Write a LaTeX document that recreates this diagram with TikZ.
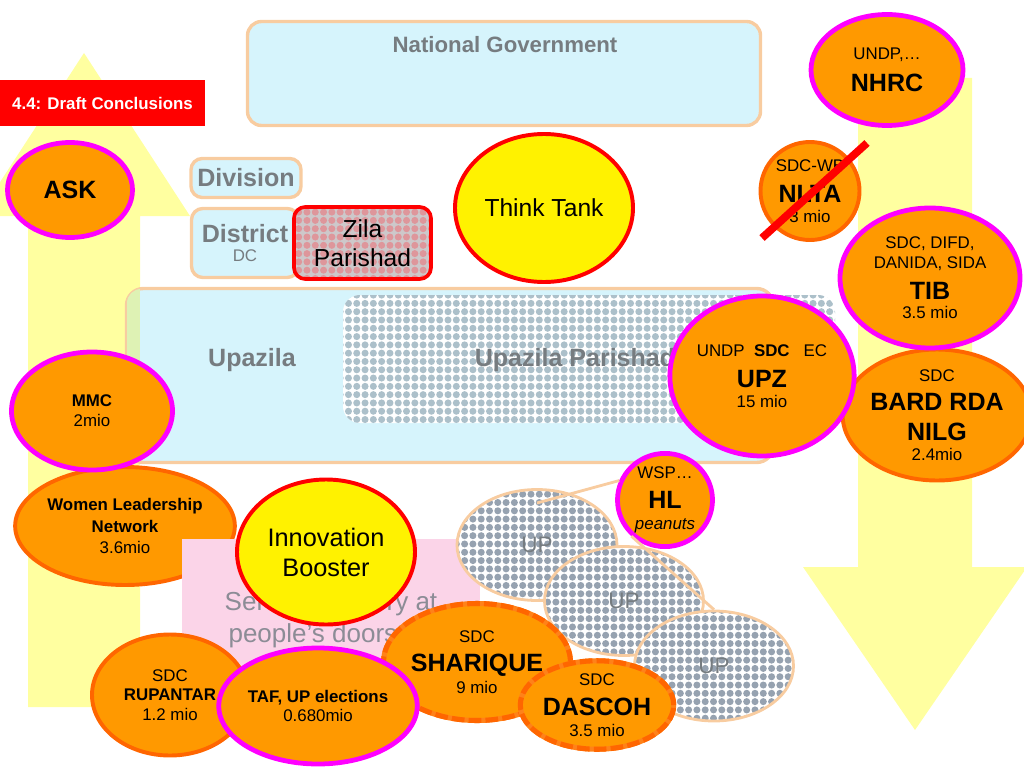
\documentclass[tikz,border=0pt]{standalone}
\usepackage{fontspec}
\setmainfont{Liberation Sans}
\usepackage{tikz}
\usetikzlibrary{shapes}
\usetikzlibrary{patterns.meta}

\definecolor{orfill}{RGB}{255,153,0}
\definecolor{orline}{RGB}{255,102,0}
\definecolor{ordash}{RGB}{255,130,25}
\definecolor{magline}{RGB}{255,0,255}
\definecolor{boxfill}{RGB}{214,244,252}
\definecolor{boxline}{RGB}{248,204,160}
\definecolor{arrowyel}{RGB}{255,255,160}
\definecolor{shaftgreen}{RGB}{222,242,180}
\definecolor{pinkfill}{RGB}{251,212,232}
\definecolor{graytext}{RGB}{118,124,128}
\definecolor{lighttext}{RGB}{140,140,150}
\definecolor{dotblue}{RGB}{172,192,202}
\definecolor{dotgray}{RGB}{150,162,176}
\definecolor{dotpink}{RGB}{222,150,155}
\definecolor{zilabg}{RGB}{205,200,202}

\newcommand{\orgsmall}{\fontsize{12}{14}\selectfont}
\newcommand{\orgbig}{\fontsize{17.8}{21}\selectfont\bfseries}

\tikzdeclarepattern{
  name=dotfill,
  type=uncolored,
  bounding box={(-2.95pt,-2.95pt) and (2.95pt,2.95pt)},
  tile size={(5.9pt,5.9pt)},
  code={\fill (0pt,0pt) circle [radius=2.5pt];}
}

\tikzset{
	sz/.style 2 args={minimum width=#1*0.025cm,minimum height=#2*0.025cm},
	org node/.style={ellipse,draw=orline,line width=2.8pt,fill=orfill,align=center,inner sep=0pt,font=\orgsmall},
	mag node/.style={org node,draw=magline,line width=3.4pt},
	dash node/.style={org node,draw=ordash,line width=3.6pt,
		postaction={draw=orline,line width=3.6pt,dash pattern=on 9pt off 3pt}},
	idea node/.style={ellipse,draw=red,line width=2.8pt,fill=yellow,align=center,inner sep=0pt,
		font=\fontsize{17.5}{21}\selectfont},
	level box/.style={rectangle,rounded corners=8pt,draw=boxline,line width=2.4pt,fill=boxfill,inner sep=0pt},
	level text/.style={text=graytext,font=\bfseries\fontsize{17.8}{21}\selectfont},
	up node/.style={ellipse,draw=boxline,line width=2pt,preaction={fill=white},pattern=dotfill,
		pattern color=dotgray,text=graytext,inner sep=0pt,font=\fontsize{16}{19}\selectfont},
	title box/.style={rectangle,fill=red,text=white,inner sep=0pt,font=\bfseries\fontsize{12}{14}\selectfont},
	hl line/.style={draw=boxline,line width=2pt}
}

\begin{document}
\begin{tikzpicture}[x=0.025cm,y=-0.025cm]
  \useasboundingbox (0,0) rectangle (1024,768);
  \clip (0,0) rectangle (1024,768);

  % up and down arrows
  \fill[arrowyel] (28,707) -- (28,216) -- (-22,216) -- (84,53) -- (190,216) -- (140,216) -- (140,707) -- cycle;
  \fill[arrowyel] (858,78) -- (858,567) -- (803,567) -- (915,730) -- (1027,567) -- (972,567) -- (972,78) -- cycle;

  \node[title box,sz={205}{46}] (title) at (102.5,103) {4.4: Draft Conclusions};

  % levels
  \node[level box,rounded corners=10pt,sz={513}{104}] (natgov) at (504,73.5) {};
  \node[level text,font=\bfseries\fontsize{15.8}{19}\selectfont] (natgovtext) at (505,45) {National Government};
  \node[level box,level text,sz={110}{39}] (division) at (246,178) {Division};
  \node[level box,level text,sz={107}{69},align=center,font=\bfseries\fontsize{17.8}{14}\selectfont] (district) at (245,243)
    {District\\[0pt]{\mdseries\fontsize{12}{14}\selectfont DC}};
  \node[rectangle,rounded corners=8pt,draw=red,line width=2.6pt,preaction={fill=zilabg},pattern=dotfill,
    pattern color=dotpink,sz={137}{72},align=center,inner sep=0pt,font=\fontsize{17.5}{20.6}\selectfont] (zila) at (362.5,243) {Zila\\Parishad};

  \node[level box,rounded corners=12pt,sz={647}{174}] (upazila) at (450,375.5) {};
  \begin{scope}
    \clip[rounded corners=10pt] (127,289) rectangle (773,462);
    \fill[shaftgreen] (127,289) rectangle (140,462);
  \end{scope}
  \node[rectangle,rounded corners=12pt,preaction={fill=white},pattern=dotfill,pattern color=dotblue,
    sz={492}{128},inner sep=0pt] (upparishad) at (589,359) {};
  \node[level text] (upazilatext) at (252,360) {Upazila};
  \node[level text] (upparishadtext) at (575,360) {Upazila Parishad};

  % top
  \node[idea node,sz={178}{148}] (think) at (544,208) {Think Tank};
  \node[org node,sz={99}{98}] (nlta) at (810,191) {SDC-WB\\[8pt]{\orgbig NLTA}\\3 mio};
  \draw[red,line width=5.5pt] ([shift={(-48,47)}]nlta.center) -- ([shift={(57,-48)}]nlta.center);
  \node[mag node,sz={152}{111}] (nhrc) at (887,70) {UNDP,…\\[9pt]{\orgbig NHRC}};
  \node[mag node,sz={125}{95},font=\orgbig] (ask) at (70,190) {ASK};

  % right side
  \node[org node,sz={176}{131}] (bard) at (937,415) {SDC\\[7pt]{\orgbig BARD RDA}\\[7pt]{\orgbig NILG}\\2.4mio};
  \node[mag node,sz={180}{140}] (tib) at (930,278) {SDC, DIFD,\\DANIDA, SIDA\\[8pt]{\orgbig TIB}\\3.5 mio};
  \node[mag node,sz={160}{160}] (upz) at (762,376) {UNDP\ \ \textbf{SDC}\ \ \ EC\\[8pt]{\orgbig UPZ}\\15 mio};

  % left side
  \node[org node,sz={162}{118}] (wln) at (125,526) {\textbf{Women Leadership}\\[1pt]\textbf{Network}\\[1pt]3.6mio};
  \node[mag node,sz={161}{118}] (mmc) at (92,411) {\textbf{MMC}\\2mio};

  % bottom
  \node[rectangle,fill=pinkfill,sz={298}{163},align=center,text=lighttext,
    font=\fontsize{18.5}{22.6}\selectfont] (service) at (331,620) {Service delivery at\\people's doorstep};
  \node[idea node,sz={178}{145},font=\fontsize{18}{21.3}\selectfont] (booster) at (326,552) {Innovation\\Booster};

  \node[up node,sz={160}{111}] (up1) at (537,545) {UP};
  \node[up node,sz={159}{109}] (up2) at (624,601) {UP};
  \node[up node,sz={159}{110}] (up3) at (714,666) {UP};
  \node[mag node,sz={95}{88}] (hl) at (665,500) {WSP…\\[7pt]{\orgbig HL}\\[1pt]\textit{peanuts}};
  \coordinate (up1end) at (537,503);
  \path[hl line]
    (hl.157) edge (up1end)
    (hl.227) edge (up3.north);

  \node[org node,sz={156}{121}] (rupantar) at (170,695) {SDC\\\textbf{RUPANTAR}\\1.2 mio};
  \node[dash node,sz={167}{117}] (sharique) at (477,662) {SDC\\[7pt]{\orgbig SHARIQUE}\\[1.5pt]9 mio};
  \node[mag node,sz={162}{116}] (taf) at (318,706) {\textbf{TAF, UP elections}\\0.680mio};
  \node[dash node,sz={135}{79}] (dascoh) at (597,705) {SDC\\[7pt]{\orgbig DASCOH}\\[1pt]3.5 mio};
\end{tikzpicture}
\end{document}
